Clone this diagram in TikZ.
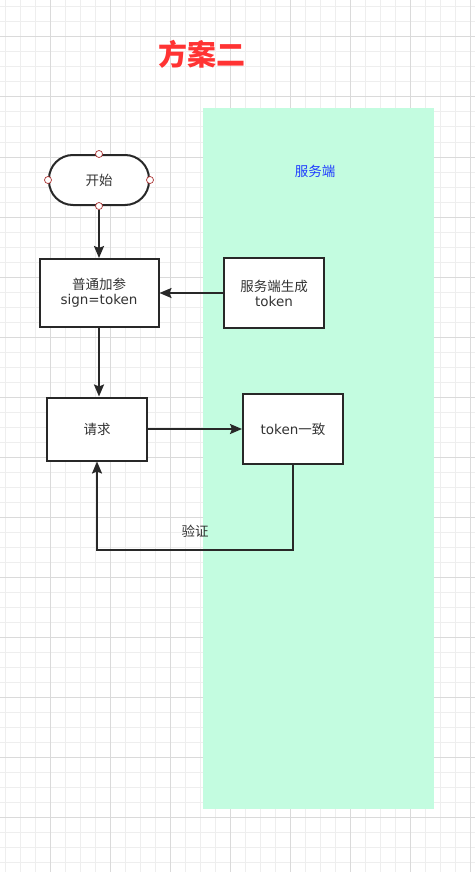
\documentclass[tikz,border=0pt]{standalone}
\usepackage{fontspec}
\setmainfont{DejaVu Sans}
\newfontfamily\cjk{Noto Sans CJK SC}
\usepackage{xcolor}
\definecolor{gridminor}{RGB}{238,238,238}
\definecolor{gridmajor}{RGB}{218,218,218}
\definecolor{lanegreen}{RGB}{195,252,224}
\definecolor{titlered}{RGB}{255,51,51}
\definecolor{lanetext}{RGB}{30,60,255}
\definecolor{inkgray}{RGB}{40,40,40}
\definecolor{txtgray}{RGB}{51,51,51}
\definecolor{pinred}{RGB}{170,50,50}
\usetikzlibrary{arrows.meta, positioning, calc}

\tikzset{
  procbox/.style={draw=inkgray, line width=2pt, fill=white, font=\fontsize{13.5}{16}\selectfont,
                  text=txtgray, align=center, inner sep=0pt},
  termbox/.style={procbox, rounded corners=24pt, minimum width=100pt, minimum height=50pt},
  pin/.style={circle, draw=pinred, fill=white, line width=0.7pt, minimum size=7pt, inner sep=0pt},
  flowarrow/.style={draw=inkgray, line width=2pt,
                    -{Stealth[length=12pt, width=10pt, inset=2pt]}},
}

\begin{document}
\begin{tikzpicture}[x=1pt, y=-1pt]
  \useasboundingbox (0,0) rectangle (475,872);
  \fill[white] (0,0) rectangle (475,872);

  % background grid
  \foreach \gx in {5,20,...,475}
    \draw[gridminor, line width=1pt] (\gx,0) -- (\gx,872);
  \foreach \gy in {7,22,...,872}
    \draw[gridminor, line width=1pt] (0,\gy) -- (475,\gy);
  \foreach \gx in {50,110,...,475}
    \draw[gridmajor, line width=1pt] (\gx,0) -- (\gx,872);
  \foreach \gy in {37,97,...,872}
    \draw[gridmajor, line width=1pt] (0,\gy) -- (475,\gy);

  % title
  \node[font=\cjk\bfseries\fontsize{29}{32}\selectfont, text=titlered] (title) at (202,54) {方案二};

  % server lane
  \fill[lanegreen] (203,108) rectangle (434,809);
  \node[font=\cjk\fontsize{13.5}{16}\selectfont, text=lanetext] (lane) at (315,171) {服务端};

  % flow nodes
  \node[termbox] (start) at (99,180) {\cjk 开始};
  \node[pin] (pinN) at (start.north) {};
  \node[pin] (pinS) at (start.south) {};
  \node[pin] (pinW) at (start.west) {};
  \node[pin] (pinE) at (start.east) {};

  \node[procbox, minimum width=119pt, minimum height=68pt] (sign) at (99,293)
       {{\cjk 普通加参}\\[-1pt]sign=token};
  \node[procbox, minimum width=100pt, minimum height=70pt] (gen) at (274,293)
       {{\cjk 服务端生成}\\[-1pt]token};
  \node[procbox, minimum width=100pt, minimum height=63pt] (req) at (97,429)
       {\cjk 请求};
  \node[procbox, minimum width=100pt, minimum height=70pt] (same) at (293,429)
       {token{\cjk 一致}};

  % connectors
  \draw[flowarrow] (pinS) -- (sign.north);
  \draw[flowarrow] (gen.west) -- (sign.east);
  \draw[flowarrow] (sign.south) -- (sign.south |- req.north);
  \draw[flowarrow] (req.east) -- (same.west |- req.east);
  \coordinate (loopturn) at (97,550);
  \draw[flowarrow] (same.south) |- (loopturn) -- (req.south);
  \node[font=\cjk\fontsize{13.5}{16}\selectfont, text=txtgray] (check) at (195,531) {验证};
\end{tikzpicture}
\end{document}
